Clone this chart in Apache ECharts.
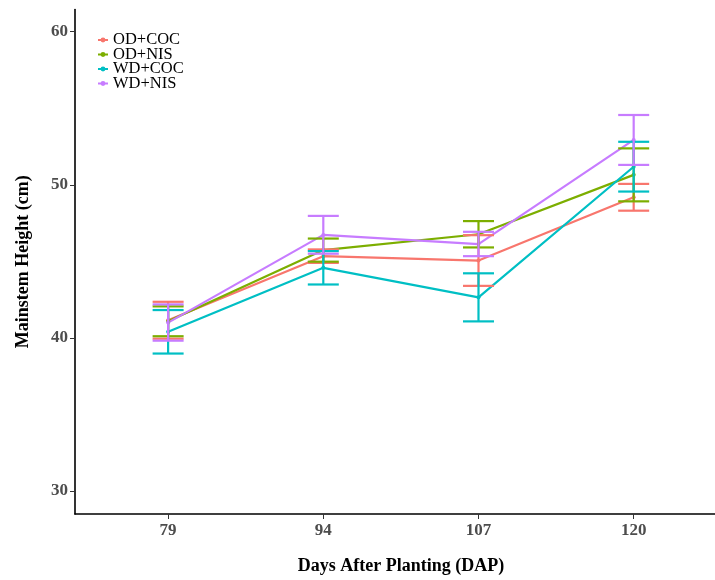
<!DOCTYPE html>
<html>
<head>
<meta charset="utf-8">
<script src="https://cdn.jsdelivr.net/npm/echarts@6/dist/echarts.min.js"></script>
<style>
  html, body { margin: 0; padding: 0; background: #fff; }
  #chart { width: 715px; height: 580px; }
</style>
</head>
<body>
<div id="chart"></div>
<script>
const days = ['79', '94', '107', '120']
const groups = ['OD+COC', 'OD+NIS', 'WD+COC', 'WD+NIS']
const colors = ['#F8766D', '#7CAE00', '#00BFC4', '#C77CFF']

// mean and error bar ends
const odCoc = [41.15, 45.34, 45.05, 49.19]
const odCocLow = [39.95, 44.9, 43.4, 48.31]
const odCocHigh = [42.36, 45.78, 46.71, 50.06]

const odNis = [41.09, 45.74, 46.77, 50.65]
const odNisLow = [40.11, 44.98, 45.91, 48.92]
const odNisHigh = [42.06, 46.49, 47.63, 52.38]

const wdCoc = [40.4, 44.58, 42.65, 51.18]
const wdCocLow = [38.98, 43.49, 41.08, 49.56]
const wdCocHigh = [41.82, 45.67, 44.22, 52.81]

const wdNis = [41.0, 46.73, 46.13, 52.93]
const wdNisLow = [39.82, 45.5, 45.34, 51.3]
const wdNisHigh = [42.19, 47.97, 46.93, 54.56]

const yTicks = [30, 40, 50, 60]

const means = [odCoc, odNis, wdCoc, wdNis]
const lows = [odCocLow, odNisLow, wdCocLow, wdNisLow]
const highs = [odCocHigh, odNisHigh, wdCocHigh, wdNisHigh]

const font = 'Liberation Serif'
const lw = 2.2

const series = []
groups.forEach((g, i) => {
  series.push({
    name: g,
    type: 'line',
    data: means[i].map((v, j) => [j + 1, v]),
    symbol: 'circle',
    symbolSize: 4,
    showSymbol: true,
    lineStyle: { color: colors[i], width: lw },
    itemStyle: { color: colors[i] },
    z: 2
  })
})
groups.forEach((g, i) => {
  series.push({
    name: g,
    type: 'custom',
    data: lows[i].map((v, j) => [j + 1, v, highs[i][j]]),
    renderItem(params, api) {
      const x = api.value(0)
      const lo = api.coord([x, api.value(1)])
      const hi = api.coord([x, api.value(2)])
      const hw = 15.5
      const style = { stroke: colors[i], lineWidth: lw, fill: null }
      return {
        type: 'group',
        children: [
          { type: 'line', shape: { x1: lo[0], y1: lo[1], x2: hi[0], y2: hi[1] }, style },
          { type: 'line', shape: { x1: hi[0] - hw, y1: hi[1], x2: hi[0] + hw, y2: hi[1] }, style },
          { type: 'line', shape: { x1: lo[0] - hw, y1: lo[1], x2: lo[0] + hw, y2: lo[1] }, style }
        ]
      }
    },
    z: 3
  })
})

const chart = echarts.init(document.getElementById('chart'))
chart.setOption({
  animation: false,
  backgroundColor: '#fff',
  grid: { left: 75, right: 0, top: 9.5, bottom: 63, containLabel: false },
  legend: {
    data: groups,
    orient: 'vertical',
    left: 97,
    top: 31.5,
    padding: 0,
    itemWidth: 10,
    itemHeight: 6,
    itemGap: -2.5,
    textStyle: { fontFamily: font, fontSize: 16.5, color: '#000', lineHeight: 14.3 }
  },
  xAxis: {
    type: 'value',
    min: 0.4,
    max: 4.524,
    name: 'Days After Planting (DAP)',
    nameLocation: 'middle',
    nameGap: 43,
    nameTextStyle: { fontFamily: font, fontSize: 18, fontWeight: 'bold', color: '#000', padding: [0, 0, 0, 12] },
    axisLine: { show: true, onZero: false, lineStyle: { color: '#000', width: 1.6 } },
    axisTick: { show: true, length: 5, customValues: [1, 2, 3, 4], lineStyle: { color: '#333', width: 1 } },
    axisLabel: {
      customValues: [1, 2, 3, 4],
      formatter: v => days[Math.round(v) - 1],
      margin: 8,
      fontFamily: font,
      fontSize: 17,
      fontWeight: 'bold',
      color: '#4D4D4D'
    },
    splitLine: { show: false }
  },
  yAxis: {
    type: 'value',
    min: 28.5,
    max: 61.45,
    name: 'Mainstem Height (cm)',
    nameLocation: 'middle',
    nameGap: 43,
    nameTextStyle: { fontFamily: font, fontSize: 18, fontWeight: 'bold', color: '#000' },
    axisLine: { show: true, lineStyle: { color: '#000', width: 1.6 } },
    axisTick: { show: true, length: 5, customValues: yTicks, lineStyle: { color: '#333', width: 1 } },
    axisLabel: {
      customValues: yTicks,
      margin: 7,
      fontFamily: font,
      fontSize: 17,
      fontWeight: 'bold',
      color: '#4D4D4D'
    },
    splitLine: { show: false }
  },
  series
})
</script>
</body>
</html>
